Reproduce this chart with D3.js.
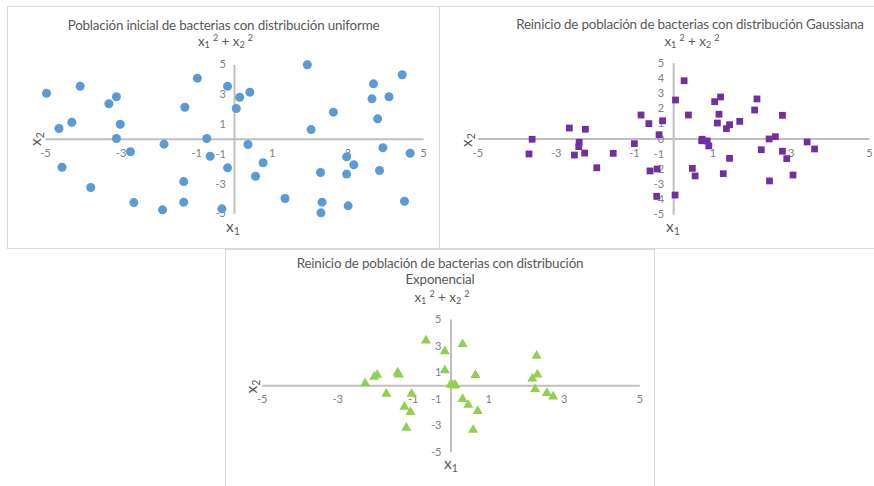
<!DOCTYPE html>
<html><head><meta charset="utf-8">
<script src="https://cdn.jsdelivr.net/npm/d3@7"></script>
<style>body{margin:0;background:#fff}svg{display:block}</style>
</head><body>
<svg id="chart" width="874" height="486"></svg>
<script>
// ---------- data ----------
const uniformX = [-4.96,-4.07,-4.63,-4.29,-4.55,-3.79,-3.31,-3.11,-3.01,-3.11,-2.74,-2.65,-1.85,-1.89,-1.30,-1.33,-1.33,-0.97,-0.72,-0.63,-0.17,-0.17,-0.32,0.06,0.15,0.42,0.37,0.77,0.57,1.35,1.94,2.04,2.63,2.29,2.33,2.30,2.98,3.17,2.98,3.02,3.65,3.69,4.10,3.80,3.94,3.85,4.45,4.66,4.51];
const uniformY = [3.06,3.53,0.69,1.11,-1.91,-3.27,2.35,2.82,0.98,0.02,-0.87,-4.28,-0.36,-4.77,2.12,-2.87,-4.25,4.07,0.02,-1.17,3.53,-1.95,-4.70,2.03,2.79,3.13,-0.38,-1.61,-2.51,-4.01,4.97,0.62,1.79,-2.26,-4.25,-4.97,-1.21,-1.74,-2.37,-4.50,2.68,3.69,2.82,1.34,-0.60,-2.13,4.30,-0.97,-4.19];

const gaussX = [-3.60,-3.68,-2.65,-2.24,-2.40,-2.41,-2.52,-2.26,-1.95,-1.53,-0.99,-0.82,-0.62,-0.59,-0.41,-0.42,-0.36,-0.27,0.06,0.28,0.05,0.39,0.49,0.56,0.74,0.73,0.87,0.91,1.06,1.21,1.17,1.13,1.36,1.44,1.70,1.44,1.28,2.08,2.14,2.25,2.45,2.61,2.46,2.79,2.79,2.90,3.06,3.42,3.61];
const gaussY = [-0.05,-1.02,0.69,0.61,-0.25,-0.54,-1.09,-0.96,-1.93,-0.98,-0.34,1.55,0.98,-2.14,-2.01,-3.81,0.25,1.17,2.54,3.81,-3.73,1.55,-1.97,-2.47,-0.05,-0.15,-0.16,-0.49,2.43,2.74,1.60,1.02,0.65,0.91,1.13,-1.31,-2.32,1.88,2.61,-0.74,-0.03,0.12,-2.80,1.53,-0.84,-1.33,-2.41,-0.23,-0.69];

const expoX = [-2.26,-2.02,-1.94,-1.70,-1.40,-1.37,-1.22,-1.06,-1.03,-1.17,-0.65,-0.15,-0.15,0.00,0.05,0.10,0.13,0.32,0.66,0.32,0.47,0.72,0.60,2.28,2.30,2.17,2.24,2.55,2.72];
const expoY = [0.16,0.64,0.79,-0.64,0.96,0.81,-1.62,-2.02,-0.64,-3.20,3.37,2.57,1.14,0.06,0.02,-0.01,0.03,3.10,0.77,-1.04,-1.47,-1.94,-3.35,2.22,0.81,0.51,-0.29,-0.59,-0.84];

const titleUniform = ["Población inicial de bacterias con distribución uniforme"];
const titleGauss = ["Reinicio de población de bacterias con distribución Gaussiana"];
const titleExpo = ["Reinicio de población de bacterias con distribución", "Exponencial"];
const xTickValues = [-5, -3, -1, 1, 3, 5];
const yTickOdd = [5, 3, 1, -1, -3, -5];
const yTickAll = [5, 4, 3, 2, 1, 0, -1, -2, -3, -4, -5];
const axisDomain = [-5, 5];

// ---------- layout / style ----------
const FONT = "Lato, 'Open Sans', sans-serif";
const TITLE_COLOR = "#595959";
const TICK_COLOR = "#808080";
const AXIS_COLOR = "#BFBFBF";
const svg = d3.select("#chart");

function measure(text, size) {
  const t = svg.append("text").attr("font-family", FONT).attr("font-size", size).text(text);
  const w = t.node().getComputedTextLength();
  t.remove();
  return w;
}
const titleSize = 13.4;
const titleSpacing = (311.7 - measure(titleUniform[0], titleSize)) / titleUniform[0].length;

const panels = [
  { frame: [7.5, 6.5, 432, 242], xr: [45, 423], yr: [213.3, 64.3], cx: 223.5, titleY: [29.5], subY: 45.7,
    x1: [233, 231.5], x2: [41, 139], xs: uniformX, ys: uniformY, yTicks: yTickOdd, pad: 8,
    titles: titleUniform, marker: "circle", color: "#5B9BD5" },
  { frame: [439.5, 6.5, 520, 242], xr: [477.3, 869], yr: [214.3, 62.7], cx: 690, titleY: [29.3], subY: 45.7,
    x1: [673, 231.5], x2: [472, 140], xs: gaussX, ys: gaussY, yTicks: yTickAll, pad: 9,
    titles: titleGauss, marker: "square", color: "#7030A0" },
  { frame: [225.5, 249.5, 429, 260], xr: [261.7, 639.3], yr: [451.7, 319], cx: 440, titleY: [267.5, 284], subY: 301.5,
    x1: [451, 468.5], x2: [257, 386.5], xs: expoX, ys: expoY, yTicks: yTickOdd, pad: 9,
    titles: titleExpo, marker: "triangle", color: "#92D050" }
];

panels.forEach(p => {
  const g = svg.append("g");
  g.append("rect").attr("x", p.frame[0]).attr("y", p.frame[1]).attr("width", p.frame[2]).attr("height", p.frame[3])
    .attr("fill", "#fff").attr("stroke", "#D9D9D9").attr("stroke-width", 1);

  const x = d3.scaleLinear().domain(axisDomain).range(p.xr);
  const y = d3.scaleLinear().domain(axisDomain).range(p.yr);

  // titles
  p.titles.forEach((t, i) => {
    g.append("text").attr("x", p.cx).attr("y", p.titleY[i]).attr("text-anchor", "middle")
      .attr("font-family", FONT).attr("font-size", titleSize).attr("letter-spacing", titleSpacing)
      .attr("fill", TITLE_COLOR).text(t);
  });
  // subtitle x1^2 + x2^2
  const st = g.append("text").attr("x", p.cx + 2).attr("y", p.subY).attr("text-anchor", "middle")
    .attr("font-family", FONT).attr("font-size", titleSize).attr("fill", TITLE_COLOR);
  const small = titleSize * 0.68;
  st.append("tspan").text("x");
  st.append("tspan").attr("font-size", small).attr("dy", 2.5).text("1");
  st.append("tspan").attr("font-size", small).attr("dy", -7.5).attr("dx", 3).text("2");
  st.append("tspan").attr("dy", 5).text(" + x");
  st.append("tspan").attr("font-size", small).attr("dy", 2.5).text("2");
  st.append("tspan").attr("font-size", small).attr("dy", -7.5).attr("dx", 3).text("2");

  // axes
  const fmt = d => String(d);
  const xAxis = d3.axisBottom(x).tickValues(xTickValues).tickSize(0).tickSizeOuter(0).tickFormat(fmt);
  const yAxis = d3.axisLeft(y).tickValues(p.yTicks).tickSize(0).tickSizeOuter(0).tickPadding(p.pad).tickFormat(fmt);
  const gx = g.append("g").attr("transform", `translate(0,${y(0)})`).call(xAxis);
  const gy = g.append("g").attr("transform", `translate(${x(0)},0)`).call(yAxis);
  [gx, gy].forEach(a => {
    a.select(".domain").attr("stroke", AXIS_COLOR).attr("stroke-width", 2);
    a.selectAll("text").attr("font-family", FONT).attr("font-size", 11).attr("fill", TICK_COLOR);
  });
  gx.selectAll("text").attr("y", 18).attr("dy", null);

  // axis titles
  const t1 = g.append("text").attr("x", p.x1[0]).attr("y", p.x1[1]).attr("text-anchor", "middle")
    .attr("font-family", FONT).attr("font-size", 15.5).attr("fill", TITLE_COLOR);
  t1.append("tspan").text("x");
  t1.append("tspan").attr("font-size", 10.5).attr("dy", 3).text("1");
  const t2 = g.append("text").attr("transform", `translate(${p.x2[0]},${p.x2[1]}) rotate(-90)`).attr("text-anchor", "middle")
    .attr("font-family", FONT).attr("font-size", 15.5).attr("fill", TITLE_COLOR);
  t2.append("tspan").text("x");
  t2.append("tspan").attr("font-size", 10.5).attr("dy", 3).text("2");

  // markers
  const data = p.xs.map((v, i) => [v, p.ys[i]]);
  if (p.marker === "circle") {
    g.append("g").selectAll("circle").data(data).join("circle")
      .attr("cx", d => x(d[0])).attr("cy", d => y(d[1])).attr("r", 4.5).attr("fill", p.color);
  } else {
    const sym = d3.symbol().type(p.marker === "square" ? d3.symbolSquare : d3.symbolTriangle)
      .size(p.marker === "square" ? 46 : 44);
    g.append("g").selectAll("path").data(data).join("path")
      .attr("transform", d => `translate(${x(d[0])},${y(d[1])})`).attr("d", sym).attr("fill", p.color);
  }
});
</script>
</body></html>
